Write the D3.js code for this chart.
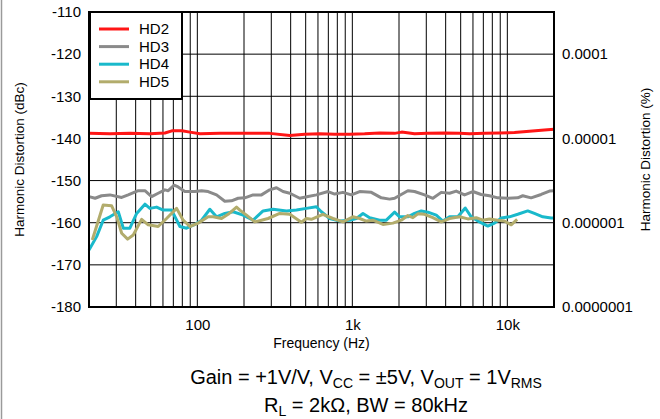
<!DOCTYPE html>
<html>
<head>
<meta charset="utf-8">
<script src="https://cdn.jsdelivr.net/npm/d3@7"></script>
<style>
	html, body { margin: 0; padding: 0; background: #fff; }
	svg { display: block; font-family: "Liberation Sans", Arial, sans-serif; }
	.axis text { font-size: 15px; fill: #000; }
	.axis path { display: none; }
	.grid line { stroke: #000; stroke-width: 1; }
</style>
</head>
<body>
<svg id="chart" width="660" height="419"></svg>
<script>
'use strict';

// series names
var seriesNames = ['HD2', 'HD3', 'HD4', 'HD5'];

// HD2, frequency (Hz) and level (dBc)
var hd2Freq = [20, 27.3, 36.7, 49.4, 61.8, 68.5, 79.5, 89.5, 104, 140, 218, 293, 395, 493, 616, 769, 961, 1200, 1500, 1874, 2079, 2520, 3057, 3934, 4916, 5703, 7118, 8892, 11114, 13885, 17348, 20000];
var hd2Db = [-138.8, -138.9, -138.8, -138.9, -138.7, -138.2, -138.2, -138.5, -138.9, -138.8, -138.8, -138.8, -139.3, -139.0, -138.9, -139.0, -139.0, -138.9, -138.7, -138.8, -138.5, -138.9, -138.8, -138.7, -138.8, -138.9, -138.8, -138.7, -138.6, -138.3, -138.0, -137.8];

// HD3
var hd3Freq = [20, 21.9, 24.1, 27.3, 32.5, 35.8, 41.6, 45.9, 50.7, 55.9, 61.8, 64.9, 70.9, 75.2, 83.1, 96.4, 106.5, 117.4, 133, 150.4, 166.2, 183.3, 202.4, 228.9, 259.3, 293, 324, 357, 395, 458, 518, 586, 697, 769, 870, 985, 1115, 1326, 1538, 1740, 1874, 2282, 2520, 2924, 3307, 3746, 4237, 4679, 5296, 5986, 6780, 7670, 8675, 10067, 11670, 12570, 14238, 16520, 18690, 20000];
var hd3Db = [-153.8, -154.2, -153.6, -153.4, -154.0, -153.4, -152.4, -152.4, -153.8, -153.0, -152.2, -152.4, -151.1, -151.5, -152.6, -152.6, -152.4, -152.6, -153.4, -154.9, -154.8, -154.2, -154.1, -153.4, -153.4, -152.2, -151.7, -152.6, -153.0, -154.2, -153.8, -153.4, -152.6, -153.2, -152.8, -153.4, -152.6, -152.8, -154.1, -154.4, -154.2, -152.4, -152.6, -153.4, -154.2, -152.8, -153.0, -152.5, -153.4, -152.6, -153.3, -153.6, -154.1, -154.2, -154.1, -153.6, -154.1, -153.3, -152.5, -152.4];

// HD4
var hd4Freq = [20, 22.4, 24.7, 27.3, 30.9, 33.3, 36.7, 40.6, 45.9, 49.4, 54.6, 60.2, 68.2, 77.2, 85.2, 96.4, 106.5, 120.4, 133, 150.4, 170.2, 197.4, 228.9, 265.5, 308, 376, 436, 505, 586, 631, 714, 829, 961, 1062, 1171, 1293, 1500, 1657, 1874, 2018, 2282, 2520, 2784, 3071, 3478, 3836, 4237, 4793, 5351, 5846, 6610, 7479, 8260, 9119, 10322, 11670, 13540, 14950, 16920, 19170, 20000];
var hd4Db = [-166.5, -163.3, -159.4, -158.6, -157.4, -161.3, -161.3, -157.8, -155.6, -156.6, -156.3, -157.0, -157.0, -160.9, -161.3, -160.4, -159.4, -156.8, -158.6, -157.8, -157.4, -158.2, -159.4, -157.2, -156.8, -157.2, -157.0, -156.6, -156.2, -157.4, -159.0, -159.6, -159.4, -159.0, -157.8, -158.8, -159.4, -159.4, -157.5, -158.6, -158.6, -157.8, -157.2, -157.5, -158.2, -159.6, -158.6, -158.6, -156.5, -158.6, -159.8, -160.8, -160.1, -158.9, -158.6, -158.0, -157.2, -157.8, -158.6, -158.9, -158.9];

// HD5
var hd5Freq = [21, 24.7, 28, 30.2, 32.5, 35.5, 38.6, 43.7, 48.2, 55.9, 63.3, 73.5, 81, 89.5, 101.2, 117.4, 126.4, 143.2, 158, 179, 188, 207.6, 234.8, 259.3, 286, 340, 395, 469, 505, 544, 646, 750, 870, 1009, 1115, 1231, 1358, 1575, 1827, 2069, 2282, 2458, 2647, 2924, 3307, 3746, 4237, 4916, 5559, 6297, 6943, 7670, 8675, 9578, 10586, 11567];
var hd5Db = [-164.1, -155.8, -156.0, -158.6, -162.5, -163.9, -162.9, -159.2, -160.5, -160.9, -159.0, -156.6, -159.4, -160.9, -160.1, -158.6, -158.6, -159.0, -158.0, -156.3, -157.0, -158.2, -159.8, -159.4, -159.0, -157.8, -158.0, -159.9, -159.0, -159.2, -158.0, -159.0, -159.8, -158.6, -159.0, -159.6, -159.4, -160.4, -160.1, -159.4, -158.3, -158.8, -157.9, -158.0, -158.8, -159.8, -159.0, -158.6, -159.1, -158.8, -159.4, -159.1, -159.4, -159.6, -160.5, -159.2];

// axis ticks
var yTicks = [-110, -120, -130, -140, -150, -160, -170, -180];
var xTickValues = [100, 1000, 10000];
var xTickLabels = ['100', '1k', '10k'];
var xGridValues = [30, 40, 50, 60, 70, 80, 90, 100, 200, 300, 400, 500, 600, 700, 800, 900, 1000, 2000, 3000, 4000, 5000, 6000, 7000, 8000, 9000, 10000];
var pctTickValues = [1e-4, 1e-5, 1e-6, 1e-7];
var pctTickLabels = ['0.0001', '0.00001', '0.000001', '0.0000001'];

var colors = {
	HD2: '#ff1616',
	HD3: '#8a8a8a',
	HD4: '#19b9cb',
	HD5: '#b2ac6c'
};

var margin = { top: 12, left: 89, right: 106, bottom: 112 },
	width = 660 - margin.left - margin.right,
	height = 419 - margin.top - margin.bottom;

var svg = d3.select('#chart');

// outer frame line at the left edge of the figure
svg.append('line')
	.attr('x1', 1.5).attr('x2', 1.5)
	.attr('y1', 0).attr('y2', 419)
	.attr('stroke', '#9a9a9a')
	.attr('stroke-width', 1.5);

var chart = svg.append('g')
	.attr('transform', 'translate(' + margin.left + ',' + margin.top + ')');

var x = d3.scaleLog().domain([20, 20000]).range([0, width]);
var y = d3.scaleLinear().domain([-180, -110]).range([height, 0]);
// dBc -> % : -120 dBc = 0.0001 %
var yPct = d3.scaleLog()
	.domain([100 * Math.pow(10, -180 / 20), 100 * Math.pow(10, -110 / 20)])
	.range([height, 0]);

// grid
chart.append('g')
	.attr('class', 'grid')
	.selectAll('line')
	.data(xGridValues)
	.enter()
	.append('line')
	.attr('x1', function(d) { return x(d); })
	.attr('x2', function(d) { return x(d); })
	.attr('y1', 0)
	.attr('y2', height);

chart.append('g')
	.attr('class', 'grid')
	.selectAll('line')
	.data(yTicks.slice(1, -1))
	.enter()
	.append('line')
	.attr('x1', 0)
	.attr('x2', width)
	.attr('y1', function(d) { return y(d); })
	.attr('y2', function(d) { return y(d); });

// series
var series = [
	{ name: 'HD2', freq: hd2Freq, db: hd2Db },
	{ name: 'HD3', freq: hd3Freq, db: hd3Db },
	{ name: 'HD4', freq: hd4Freq, db: hd4Db },
	{ name: 'HD5', freq: hd5Freq, db: hd5Db }
];

var line = d3.line()
	.x(function(d) { return x(d[0]); })
	.y(function(d) { return y(d[1]); });

chart.append('g')
	.selectAll('path')
	.data(series)
	.enter()
	.append('path')
	.attr('d', function(s) {
		return line(s.freq.map(function(f, i) { return [f, s.db[i]]; }));
	})
	.attr('fill', 'none')
	.attr('stroke', function(s) { return colors[s.name]; })
	.attr('stroke-width', 3)
	.attr('stroke-linejoin', 'round');

// frame
chart.append('rect')
	.attr('x', 0).attr('y', 0)
	.attr('width', width).attr('height', height)
	.attr('fill', 'none')
	.attr('stroke', '#000')
	.attr('stroke-width', 2);

// axes
chart.append('g')
	.attr('class', 'axis axis--y')
	.call(d3.axisLeft(y).tickValues(yTicks).tickSize(0).tickPadding(8).tickFormat(function(d) { return d; }));

chart.append('g')
	.attr('class', 'axis axis--x')
	.attr('transform', 'translate(0,' + height + ')')
	.call(d3.axisBottom(x).tickValues(xTickValues).tickSize(0).tickPadding(12)
		.tickFormat(function(d, i) { return xTickLabels[i]; }));

chart.append('g')
	.attr('class', 'axis axis--pct')
	.attr('transform', 'translate(' + width + ',0)')
	.call(d3.axisRight(yPct).tickValues(pctTickValues).tickSize(0).tickPadding(8)
		.tickFormat(function(d, i) { return pctTickLabels[i]; }));

// axis titles
svg.append('text')
	.attr('transform', 'translate(24,' + (margin.top + height / 2) + ') rotate(-90)')
	.attr('text-anchor', 'middle')
	.style('font-size', '13.5px')
	.text('Harmonic Distortion (dBc)');

svg.append('text')
	.attr('transform', 'translate(650,' + (margin.top + height / 2) + ') rotate(-90)')
	.attr('text-anchor', 'middle')
	.style('font-size', '13.5px')
	.text('Harmonic Distortion (%)');

svg.append('text')
	.attr('x', margin.left + width / 2)
	.attr('y', 348)
	.attr('text-anchor', 'middle')
	.style('font-size', '14px')
	.text('Frequency (Hz)');

// conditions, with subscripts
var conditionLines = [
	[['Gain = +1V/V, V', 0], ['CC', 1], [' = \u00b15V, V', 0], ['OUT', 1], [' = 1V', 0], ['RMS', 1]],
	[['R', 0], ['L', 1], [' = 2k\u03a9, BW = 80kHz', 0]]
];
var conditionY = [384, 412];

conditionLines.forEach(function(parts, li) {
	var t = svg.append('text')
		.attr('x', 366)
		.attr('y', conditionY[li])
		.attr('text-anchor', 'middle')
		.style('font-size', '20px');
	var shifted = false;
	parts.forEach(function(p) {
		var span = t.append('tspan').text(p[0]);
		if (p[1]) {
			span.style('font-size', '14px');
		}
		if (p[1] && !shifted) {
			span.attr('dy', 4);
			shifted = true;
		} else if (!p[1] && shifted) {
			span.attr('dy', -4);
			shifted = false;
		}
	});
});

// legend
var legend = chart.append('g')
	.attr('transform', 'translate(1,0)');

legend.append('rect')
	.attr('x', 0).attr('y', 0)
	.attr('width', 92).attr('height', 87)
	.attr('fill', '#fff')
	.attr('stroke', '#000')
	.attr('stroke-width', 2);

var legendItem = legend.selectAll('.legend-item')
	.data(seriesNames)
	.enter()
	.append('g')
	.attr('class', 'legend-item')
	.attr('transform', function(d, i) { return 'translate(0,' + (17 + i * 17.6) + ')'; });

legendItem.append('line')
	.attr('x1', 9).attr('x2', 39)
	.attr('y1', 0).attr('y2', 0)
	.attr('stroke', function(d) { return colors[d]; })
	.attr('stroke-width', 3);

legendItem.append('text')
	.attr('x', 49)
	.attr('dy', '0.35em')
	.style('font-size', '15px')
	.text(function(d) { return d; });
</script>
</body>
</html>
